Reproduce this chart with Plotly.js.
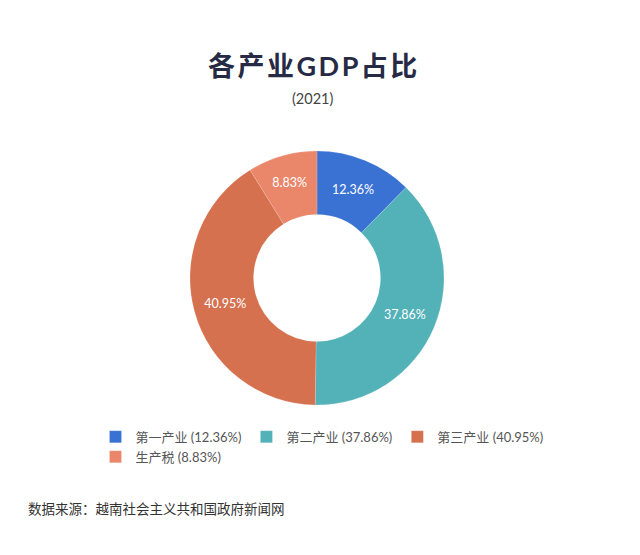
<!DOCTYPE html>
<html>
<head>
<meta charset="utf-8">
<script src="https://cdn.plot.ly/plotly-3.0.1.min.js"></script>
<style>html,body{margin:0;padding:0;background:#fff;}#chart{width:640px;height:555px;}</style>
</head>
<body>
<div id="chart"></div>
<script>
const categories = ["第一产业", "第二产业", "第三产业", "生产税"];
const shares = [12.36, 37.86, 40.95, 8.83];
const colors = ["#3a72d4", "#53b1b8", "#d6714f", "#ea876a"];
const titleText = "各产业GDP占比";
const subtitleText = "(2021)";
const sourceText = "数据来源：越南社会主义共和国政府新闻网";

const legendLabels = categories.map((c, i) => c + " (" + shares[i].toFixed(2) + "%)");
const font = "Lato, 'Noto Sans CJK SC', sans-serif";

const ML = 85, MR = 85, W = 640, H = 555;
const PW = W - ML - MR;
const px = x => (x - ML) / PW;

const trace = {
  type: "pie",
  labels: legendLabels,
  values: shares,
  text: shares.map(v => v.toFixed(2) + "%"),
  textinfo: "text",
  hoverinfo: "label",
  sort: false,
  direction: "clockwise",
  rotation: 0,
  hole: 0.5,
  marker: {colors: colors, line: {color: "rgba(255,255,255,0.3)", width: 0.5}},
  textposition: "inside",
  insidetextorientation: "horizontal",
  textfont: {family: font, size: 12.5, color: "#ffffff"},
  domain: {x: [px(190), px(444)], y: [1 - 405/H, 1 - 151/H]}
};

const layout = {
  width: W, height: H,
  margin: {l: ML, r: MR, t: 0, b: 0},
  paper_bgcolor: "#ffffff",
  plot_bgcolor: "#ffffff",
  showlegend: true,
  legend: {
    orientation: "h", x: px(322), xanchor: "center", y: 0.24, yanchor: "top",
    font: {family: font, size: 13, color: "#555555"},
    itemwidth: 30, tracegroupgap: 0, traceorder: "normal"
  },
  annotations: [
    {text: '<span style="letter-spacing:2.5px">' + titleText + '</span>', x: px(314), y: 1 - 65/H, xref: "paper", yref: "paper", showarrow: false,
     xanchor: "center", yanchor: "middle",
     font: {family: font, size: 27, color: "#272a44", weight: "bold"}},
    {text: subtitleText, x: px(313), y: 1 - 99/H, xref: "paper", yref: "paper", showarrow: false,
     xanchor: "center", yanchor: "middle",
     font: {family: font, size: 14.5, color: "#444444"}},
    {text: sourceText, x: px(26), y: 1 - 509/H, xref: "paper", yref: "paper", showarrow: false,
     xanchor: "left", yanchor: "middle",
     font: {family: font, size: 13.5, color: "#333333"}}
  ]
};

Plotly.newPlot("chart", [trace], layout, {displayModeBar: false, staticPlot: true});
</script>
</body>
</html>
